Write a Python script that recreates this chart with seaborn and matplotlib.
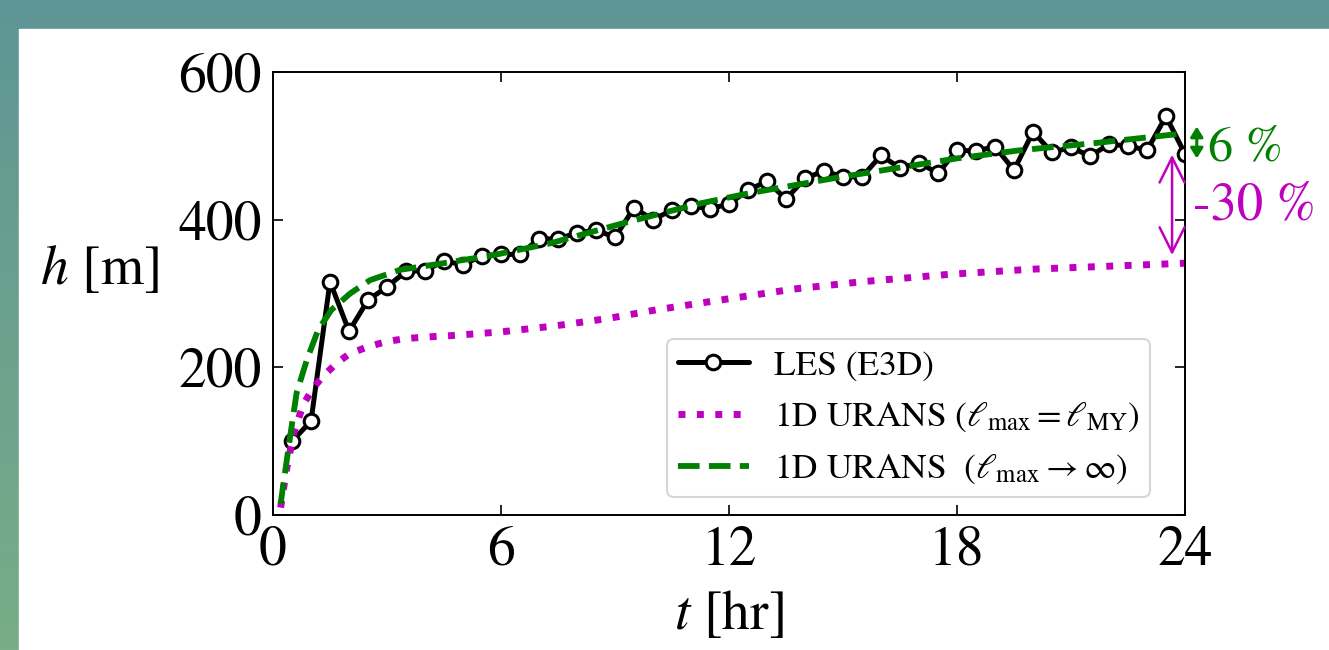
import numpy as np
import matplotlib
matplotlib.use("Agg")
import matplotlib.pyplot as plt
import seaborn as sns
from matplotlib.patches import Rectangle

# LES (E3D), one sample every half hour
les_t = [0.5, 1.0, 1.5, 2.0, 2.5, 3.0, 3.5, 4.0, 4.5, 5.0, 5.5, 6.0,
         6.5, 7.0, 7.5, 8.0, 8.5, 9.0, 9.5, 10.0, 10.5, 11.0, 11.5, 12.0,
         12.5, 13.0, 13.5, 14.0, 14.5, 15.0, 15.5, 16.0, 16.5, 17.0, 17.5, 18.0,
         18.5, 19.0, 19.5, 20.0, 20.5, 21.0, 21.5, 22.0, 22.5, 23.0, 23.5, 24.0]
les_h = [100, 127, 316, 249, 291, 309, 330, 331, 344, 339, 351, 353,
         353, 374, 374, 382, 386, 376, 416, 400, 413, 418, 415, 421,
         440, 452, 428, 456, 466, 458, 458, 487, 470, 477, 463, 494,
         493, 499, 467, 519, 491, 498, 486, 502, 500, 494, 540, 489]

# 1D URANS, l_max = l_MY
my_t = [0.2, 0.35, 0.55, 0.8, 1.06, 1.3, 1.66, 2.0, 2.5, 3.0, 3.5, 4.0, 4.7,
        6.0, 7.4, 8.8, 10.1, 11.5, 13.7, 15.5, 17.8, 20.0, 24.0]
my_h = [10, 60, 112, 150, 172, 187, 205, 218, 228, 235, 239, 241, 243,
        248, 256, 266, 278, 289, 306, 316, 326, 333, 341]

# 1D URANS, l_max -> infinity
inf_t = [0.2, 0.45, 0.62, 0.89, 1.19, 1.54, 2.03, 2.55, 3.34, 4.48, 5.8,
         7.3, 9.2, 11.24, 12.55, 14.74, 16.06, 18.0, 19.66, 21.68, 24.0]
inf_h = [15, 106, 165, 210, 251, 278, 300, 318, 332, 341, 352,
         368, 395, 422, 436, 456, 467, 483, 494, 504, 517]

labels = ["LES (E3D)",
          r"1D URANS ($\ell_{\rm max} = \ell_{\rm MY}$)",
          r"1D URANS  ($\ell_{\rm max} \rightarrow \infty$)"]

sns.set_style("ticks")
plt.rcParams["font.family"] = ["STIXGeneral", "Liberation Serif", "DejaVu Serif"]
plt.rcParams["mathtext.fontset"] = "stix"
for k in ["text.color", "axes.labelcolor", "xtick.color", "ytick.color", "axes.edgecolor"]:
    plt.rcParams[k] = "black"

W, H = 1329, 650
fig = plt.figure(figsize=(W / 100, H / 100), dpi=100)

# teal/green backdrop with white card
bg = fig.add_axes([0, 0, 1, 1], zorder=-10)
top_c = np.array([0x5f, 0x95, 0x95]) / 255
bot_c = np.array([0x78, 0xad, 0x87]) / 255
grad = np.linspace(0, 1, 256)[:, None, None] * (bot_c - top_c) + top_c
bg.imshow(grad, aspect="auto", extent=[0, 1, 0, 1], origin="upper")
bg.add_patch(Rectangle((19 / W, 0), 1, 1 - 29 / H, color="white", transform=bg.transAxes))
bg.set_xlim(0, 1)
bg.set_ylim(0, 1)
bg.axis("off")

ax = fig.add_axes([273 / W, 1 - 515 / H, (1185 - 273) / W, (515 - 72) / H])

sns.lineplot(x=les_t, y=les_h, ax=ax, color="k", marker="o", label=labels[0])
sns.lineplot(x=my_t, y=my_h, ax=ax, color="m", linestyle=":", label=labels[1])
sns.lineplot(x=inf_t, y=inf_h, ax=ax, color="g", linestyle="--", label=labels[2])

l_les, l_my, l_inf = ax.lines[:3]
l_les.set(linewidth=3.6, markersize=10.5, markerfacecolor="white",
          markeredgecolor="k", markeredgewidth=2.2)
l_my.set(linewidth=5.0, linestyle=":")
l_inf.set(linewidth=4.2, linestyle="--")

ax.set_xlim(0, 24)
ax.set_ylim(0, 600)
ax.set_xticks([0, 6, 12, 18, 24])
ax.set_yticks([0, 200, 400, 600])
ax.tick_params(direction="in", top=True, right=True, length=7, width=1.2,
               labelsize=40, pad=8)
for s in ax.spines.values():
    s.set_linewidth(1.4)

ax.set_xlabel(r"$t$ [hr]", fontsize=40, va="center", ha="center")
ax.xaxis.set_label_coords(0.5, -0.226)
ax.set_ylabel(r"$h$ [m]", fontsize=40, rotation=0, va="center", ha="center")
ax.yaxis.set_label_coords(-0.19, 0.553)

leg = ax.legend(loc="lower right", bbox_to_anchor=(0.9616, 0.0406), borderaxespad=0,
                fontsize=25.5, frameon=True, fancybox=True, handlelength=2.0,
                handletextpad=0.7, labelspacing=0.5, borderpad=0.3, numpoints=1)
leg.get_frame().set_edgecolor("#cccccc")
leg.get_frame().set_linewidth(1.5)

# difference markers at the end of the day
ax.annotate("", xy=(24.31, 526), xytext=(24.31, 483), annotation_clip=False,
            arrowprops=dict(arrowstyle="<|-|>,head_length=0.4,head_width=0.25",
                            color="g", lw=2.2, mutation_scale=15,
                            shrinkA=0, shrinkB=0))
ax.text(24.6, 480, "6 %", color="g", fontsize=36, ha="left", va="baseline", clip_on=False)

ax.annotate("", xy=(23.66, 488), xytext=(23.66, 352), annotation_clip=False,
            arrowprops=dict(arrowstyle="<->,head_length=0.9,head_width=0.45",
                            color="m", lw=1.8, mutation_scale=20,
                            shrinkA=0, shrinkB=0))
ax.text(24.2, 400, "-30 %", color="m", fontsize=38, ha="left", va="baseline", clip_on=False)

fig.savefig("out.png", dpi=100)
